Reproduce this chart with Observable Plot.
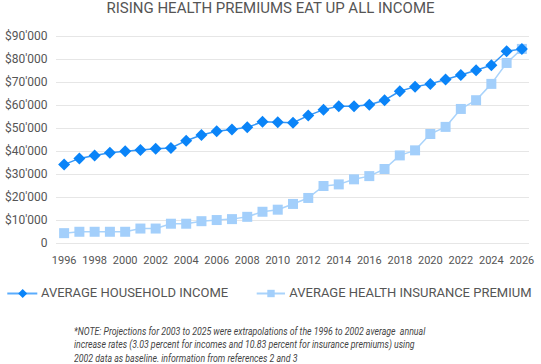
<!DOCTYPE html>
<html>
<head>
<meta charset="utf-8">
<script src="https://cdn.jsdelivr.net/npm/d3@7"></script>
<script src="https://cdn.jsdelivr.net/npm/@observablehq/plot@0.6"></script>
<style>
  html, body { margin: 0; padding: 0; background: #fff; }
  body { width: 541px; height: 364px; overflow: hidden; position: relative; font-family: Roboto, sans-serif; }
  #title { position: absolute; left: 0; top: -1px; width: 541px; text-align: center; font-size: 15px; line-height: 18px; color: #555; }
  #chart { position: absolute; left: 0; top: 20px; }
  #legend { position: absolute; left: 0; top: 285px; width: 541px; height: 16px; font-size: 13px; line-height: 16px; color: #555; }
  #legend .lab { position: absolute; top: 0; white-space: nowrap; }
  #legend svg { position: absolute; top: 0; }
  #note { position: absolute; left: 74px; top: 325px; font-size: 10px; line-height: 13.3px; font-style: italic; color: #444; white-space: pre; transform: scaleX(0.875); transform-origin: 0 0; }
</style>
</head>
<body>
<div id="title"></div>
<div id="chart"></div>
<div id="legend"></div>
<div id="note"></div>
<script>
const title = "RISING HEALTH PREMIUMS EAT UP ALL INCOME";
const years = [1996,1997,1998,1999,2000,2001,2002,2003,2004,2005,2006,2007,2008,2009,2010,2011,2012,2013,2014,2015,2016,2017,2018,2019,2020,2021,2022,2023,2024,2025,2026];
const income = [34300,37000,38300,39500,40100,40700,41200,41500,44700,47200,48800,49600,50500,52900,52700,52500,55600,58200,59700,59700,60300,62300,66200,68200,69400,71300,73300,75300,77500,83600,84600];
const premium = [4500,5100,5100,5100,5100,6500,6500,8600,8600,9700,10200,10600,11600,13800,14700,17200,19800,25000,25700,27900,29300,32400,38300,40500,47600,50700,58500,62300,69400,78500,84600];
const seriesNames = ["AVERAGE HOUSEHOLD INCOME", "AVERAGE HEALTH INSURANCE PREMIUM"];
const xTicks = [1996,1998,2000,2002,2004,2006,2008,2010,2012,2014,2016,2018,2020,2022,2024,2026];
const yTicks = [0,10000,20000,30000,40000,50000,60000,70000,80000,90000];
const noteLines = [
  "*NOTE: Projections for 2003 to 2025 were extrapolations of the 1996 to 2002 average  annual",
  "increase rates (3.03 percent for incomes and 10.83 percent for insurance premiums) using",
  "2002 data as baseline. information from references 2 and 3"
];

const cIncome = "#0a84f8", cIncomeLine = "#3596f6";
const cPrem = "#a3cffb", cPremLine = "#a9d3fb";

const diamond = { draw(ctx, size) { const r = Math.sqrt(size / Math.PI); ctx.moveTo(0, -r); ctx.lineTo(r, 0); ctx.lineTo(0, r); ctx.lineTo(-r, 0); ctx.closePath(); } };
const square = { draw(ctx, size) { const r = Math.sqrt(size / Math.PI); ctx.rect(-r, -r, 2 * r, 2 * r); } };

const incData = years.map((y, i) => ({year: y, value: income[i]}));
const premData = years.map((y, i) => ({year: y, value: premium[i]}));

const fmtY = d => d === 0 ? "0" : "$" + (d / 1000) + "'000";

document.getElementById("title").textContent = title;

const plot = Plot.plot({
  width: 541,
  height: 250,
  marginTop: 16,
  marginBottom: 27,
  marginLeft: 56,
  marginRight: 12,
  style: { fontFamily: "Roboto, sans-serif", fontSize: "11px", color: "#555", background: "transparent" },
  x: { domain: [1995.5, 2026.5] },
  y: { domain: [0, 90000] },
  marks: [
    Plot.gridY(yTicks, { stroke: "#e6e6e6", strokeOpacity: 1, strokeWidth: 1 }),
    Plot.axisY(yTicks, { tickSize: 0, tickPadding: 9, tickFormat: fmtY, label: null, fill: "#555", fontSize: 12 }),
    Plot.axisX(xTicks, { tickSize: 0, tickPadding: 13, tickFormat: d => String(d), label: null, fill: "#555", fontSize: 11 }),
    Plot.line(premData, { x: "year", y: "value", stroke: cPremLine, strokeWidth: 1.5 }),
    Plot.dot(premData, { x: "year", y: "value", symbol: square, r: 5, fill: cPrem, stroke: "none" }),
    Plot.line(incData, { x: "year", y: "value", stroke: cIncomeLine, strokeWidth: 1.5 }),
    Plot.dot(incData, { x: "year", y: "value", symbol: diamond, r: 6, fill: cIncome, stroke: "none" })
  ]
});
document.getElementById("chart").appendChild(plot);

// legend
const lg = document.getElementById("legend");
lg.innerHTML =
  `<svg style="left:0" width="45" height="16"><line x1="7.3" x2="37.3" y1="8.5" y2="8.5" stroke="#5aacfd" stroke-width="2"/><path d="M22.7,4L27.2,8.5L22.7,13L18.2,8.5Z" fill="${cIncome}"/></svg>` +
  `<span class="lab" style="left:41px">${seriesNames[0]}</span>` +
  `<svg style="left:250px" width="40" height="16"><line x1="6.7" x2="35" y1="8.5" y2="8.5" stroke="${cPremLine}" stroke-width="2"/><rect x="17.3" y="4.8" width="7.4" height="7.4" fill="${cPrem}"/></svg>` +
  `<span class="lab" style="left:289.3px">${seriesNames[1]}</span>`;

document.getElementById("note").textContent = noteLines.join("\n");
</script>
</body>
</html>
